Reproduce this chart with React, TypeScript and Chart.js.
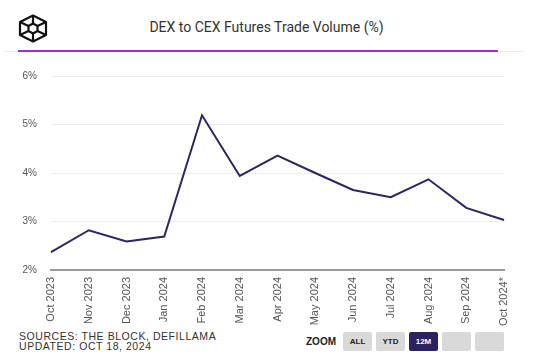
import React, { useEffect, useRef } from "react";
import { Chart, registerables } from "chart.js";

Chart.register(...registerables);

const categories = [
  "Oct 2023", "Nov 2023", "Dec 2023", "Jan 2024", "Feb 2024", "Mar 2024",
  "Apr 2024", "May 2024", "Jun 2024", "Jul 2024", "Aug 2024", "Sep 2024", "Oct 2024*",
];
const dexToCex = [2.37, 2.82, 2.59, 2.69, 5.19, 3.94, 4.36, 4.0, 3.65, 3.5, 3.87, 3.28, 3.03];
const yTicks = [2, 3, 4, 5, 6];
const title = "DEX to CEX Futures Trade Volume (%)";
const sourcesLine = "SOURCES: THE BLOCK, DEFILLAMA";
const updatedLine = "UPDATED: OCT 18, 2024";
const zoomButtons = ["ALL", "YTD", "12M", "", ""];

const LINE = "#2b2661";

function Logo() {
  return (
    <svg width="30" height="29" viewBox="0 0 30 29" style={{ position: "absolute", left: 18, top: 14 }}>
      <g fill="none" stroke="#111" strokeWidth="2.2" strokeLinejoin="round">
        <polygon points="15,1.5 28,8 28,21 15,27.5 2,21 2,8" />
        <polygon points="15,9.5 19.5,12 19.5,17 15,19.5 10.5,17 10.5,12" />
        <line x1="15" y1="1.5" x2="15" y2="9.5" />
        <line x1="2" y1="21" x2="10.5" y2="17" />
        <line x1="28" y1="21" x2="19.5" y2="17" />
        <line x1="2" y1="8" x2="10.5" y2="12" />
        <line x1="28" y1="8" x2="19.5" y2="12" />
        <line x1="15" y1="27.5" x2="15" y2="19.5" />
      </g>
    </svg>
  );
}

export default function App() {
  const canvasRef = useRef<HTMLCanvasElement>(null);

  useEffect(() => {
    const ctx = canvasRef.current!;
    const chart = new Chart(ctx, {
      type: "line",
      data: {
        labels: categories,
        datasets: [
          {
            data: dexToCex,
            borderColor: LINE,
            borderWidth: 2,
            pointRadius: 0,
            tension: 0,
            fill: false,
          },
        ],
      },
      options: {
        animation: false,
        responsive: false,
        maintainAspectRatio: false,
        layout: { padding: { top: 18, right: 29, left: 0, bottom: 0 } },
        plugins: { legend: { display: false }, tooltip: { enabled: false } },
        scales: {
          x: {
            grid: { display: false, drawTicks: false },
            border: { display: true, color: "#9a9a9a", width: 2 },
            ticks: {
              maxRotation: 90,
              minRotation: 90,
              autoSkip: false,
              padding: 7,
              color: "#555",
              font: { family: "Liberation Sans, Arial", size: 11 },
            },
            afterFit: (s: any) => {
              s.height = 60;
            },
          },
          y: {
            min: 2,
            max: 6,
            afterBuildTicks: (s: any) => {
              s.ticks = yTicks.map((v) => ({ value: v }));
            },
            grid: { color: "#ececec", lineWidth: 1, drawTicks: false },
            border: { display: false },
            ticks: {
              padding: 14,
              color: "#555",
              font: { family: "Liberation Sans, Arial", size: 10 },
              callback: (v: any) => v + "%",
            },
            afterFit: (s: any) => {
              s.width = 51;
            },
          },
        },
      },
    });
    return () => chart.destroy();
  }, []);

  return (
    <div
      style={{
        position: "fixed",
        left: 0,
        top: 0,
        width: 533,
        height: 357,
        background: "#fff",
        overflow: "hidden",
        fontFamily: "Liberation Sans, Arial, sans-serif",
      }}
    >
      <Logo />
      <div
        style={{
          position: "absolute",
          left: 0,
          width: 533,
          top: 18,
          textAlign: "center",
          fontFamily: "Roboto, sans-serif",
          fontSize: 14,
          color: "#333",
          lineHeight: "18px",
        }}
      >
        {title}
      </div>
      <div style={{ position: "absolute", left: 5, width: 518, top: 51, height: 1, background: "#eeeeee" }} />
      <div style={{ position: "absolute", left: 18, width: 480, top: 50, height: 2, background: "#9b30d6" }} />
      <canvas
        ref={canvasRef}
        width={533}
        height={274}
        style={{ position: "absolute", left: 0, top: 56, width: 533, height: 274 }}
      />
      <div
        style={{
          position: "absolute",
          left: 19,
          top: 331,
          fontSize: 10.5,
          lineHeight: "10px",
          color: "#333",
          letterSpacing: 0.55,
        }}
      >
        <div>{sourcesLine}</div>
        <div>{updatedLine}</div>
      </div>
      <div
        style={{
          position: "absolute",
          left: 306,
          top: 336,
          fontSize: 10,
          fontWeight: "bold",
          color: "#222",
          lineHeight: "12px",
        }}
      >
        ZOOM
      </div>
      {zoomButtons.map((b, i) => (
        <div
          key={i}
          style={{
            position: "absolute",
            left: 343 + i * 33,
            top: 332,
            width: 29,
            height: 19,
            borderRadius: 2,
            background: b === "12M" ? "#2b2263" : "#d9d9d9",
            color: b === "12M" ? "#fff" : "#222",
            fontSize: 8,
            fontWeight: "bold",
            display: "flex",
            alignItems: "center",
            justifyContent: "center",
          }}
        >
          {b}
        </div>
      ))}
    </div>
  );
}
